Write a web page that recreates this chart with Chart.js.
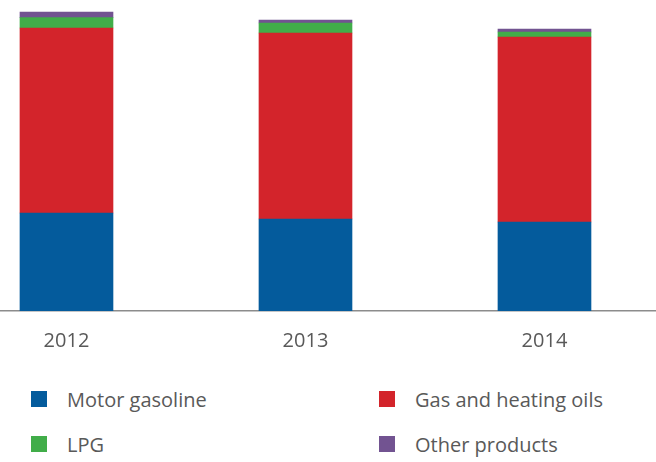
<!DOCTYPE html>
<html>
<head>
<meta charset="utf-8">
<script src="https://cdn.jsdelivr.net/npm/chart.js@4/dist/chart.umd.min.js"></script>
<style>
    html, body { margin: 0; padding: 0; background: #fff; }
    #wrap { position: relative; width: 656px; height: 462px; overflow: hidden; }
    #chart { position: absolute; left: 0; top: 0; }
    #legend {
        position: absolute; left: 31px; top: 391px;
        display: grid; grid-template-columns: 348px auto; row-gap: 29px;
        font-family: "Open Sans", sans-serif; font-size: 20px; color: #595959;
    }
    .item { display: flex; align-items: center; height: 16px; }
    .box { width: 16px; height: 16px; margin-right: 20px; flex: none; }
</style>
</head>
<body>
<div id="wrap">
    <canvas id="chart" width="656" height="362"></canvas>
    <div id="legend"></div>
</div>
<script>
// data (stacked, arbitrary units)
const years = [2012, 2013, 2014];
const motorGasoline = [98, 92, 89];
const gasHeatingOils = [185, 186, 185];
const lpg = [10.3, 10, 5];
const otherProducts = [5.7, 3, 3];

const seriesNames = ['Motor gasoline', 'Gas and heating oils', 'LPG', 'Other products'];
const seriesColors = ['#045b9c', '#d3242b', '#41ad49', '#725391'];
const seriesValues = [motorGasoline, gasHeatingOils, lpg, otherProducts];

document.addEventListener('DOMContentLoaded', function () {
    const datasets = seriesNames.map((name, i) => ({
        label: name,
        data: years.map((x, j) => ({ x: x, y: seriesValues[i][j] })),
        backgroundColor: seriesColors[i],
        borderWidth: 0,
        barThickness: 93
    }));

    const ctx = document.getElementById('chart').getContext('2d');
    const chart = new Chart(ctx, {
        type: 'bar',
        data: { datasets: datasets },
        options: {
            responsive: false,
            animation: false,
            layout: { padding: { top: 11, left: 0, right: 0, bottom: 1 } },
            plugins: {
                legend: { display: false },
                tooltip: { enabled: false }
            },
            scales: {
                x: {
                    type: 'linear',
                    stacked: true,
                    offset: false,
                    min: 2011.7218,
                    max: 2014.4666,
                    grid: { display: false, drawTicks: false },
                    border: { display: true, color: '#8c8c8c', width: 1.5 },
                    afterBuildTicks: axis => { axis.ticks = years.map(v => ({ value: v })); },
                    afterFit: axis => { axis.height = 50; },
                    ticks: {
                        padding: 18,
                        color: '#595959',
                        font: { family: '"Open Sans", sans-serif', size: 20 },
                        callback: v => String(v)
                    }
                },
                y: {
                    display: false,
                    stacked: true,
                    min: 0,
                    max: 300
                }
            }
        }
    });

    // html legend in two columns, built from the chart's datasets
    const legend = document.getElementById('legend');
    chart.data.datasets.forEach(ds => {
        const item = document.createElement('div');
        item.className = 'item';
        item.innerHTML = `<span class="box" style="background:${ds.backgroundColor}"></span><span>${ds.label}</span>`;
        legend.appendChild(item);
    });
});
</script>
</body>
</html>
